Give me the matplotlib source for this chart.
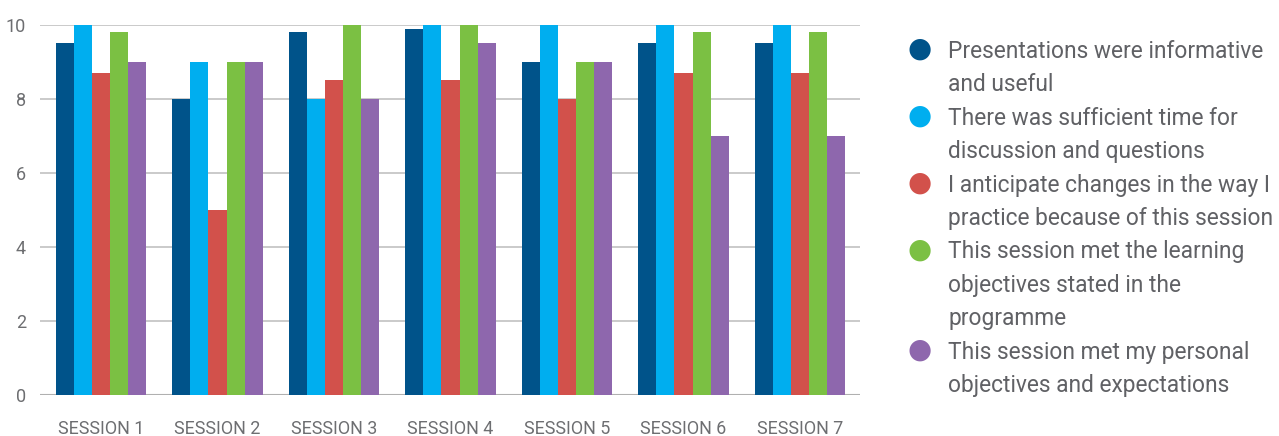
import numpy as np
import matplotlib.pyplot as plt

plt.rcParams['font.family'] = ['Roboto', 'DejaVu Sans']

sessions = ["SESSION 1", "SESSION 2", "SESSION 3", "SESSION 4", "SESSION 5", "SESSION 6", "SESSION 7"]

informative = [9.5, 8, 9.8, 9.9, 9, 9.5, 9.5]
sufficient_time = [10, 9, 8, 10, 10, 10, 10]
anticipate_changes = [8.7, 5, 8.5, 8.5, 8, 8.7, 8.7]
learning_objectives = [9.8, 9, 10, 10, 9, 9.8, 9.8]
personal_objectives = [9, 9, 8, 9.5, 9, 7, 7]

labels = [
    "Presentations were informative\nand useful",
    "There was sufficient time for\ndiscussion and questions",
    "I anticipate changes in the way I\npractice because of this session",
    "This session met the learning\nobjectives stated in the\nprogramme",
    "This session met my personal\nobjectives and expectations",
]
colors = ["#00538a", "#00aeef", "#d2514b", "#7bc043", "#8e67ad"]
series = [informative, sufficient_time, anticipate_changes, learning_objectives, personal_objectives]

text_col = "#6d6e71"

fig = plt.figure(figsize=(12.79, 4.36), dpi=100)
ax = fig.add_axes([40 / 1279, 41 / 436, 820 / 1279, 370 / 436])

x = np.arange(len(sessions))
bw = 0.156
for i, (vals, col) in enumerate(zip(series, colors)):
    ax.bar(x + (i - 2) * bw, vals, bw, color=col, zorder=3, linewidth=0)

ax.set_ylim(0, 10)
ax.set_xlim(-0.524, 6.515)
ax.set_yticks(range(0, 11, 2))
ax.set_yticklabels([str(v) for v in range(0, 11, 2)])
ax.yaxis.grid(True, color="#c6c6c6", linewidth=1.3, zorder=0)
ax.set_xticks(x)
ax.set_xticklabels(sessions)
ax.tick_params(axis="both", length=0, colors=text_col)
ax.tick_params(axis="y", labelsize=13, pad=10)
ax.tick_params(axis="x", labelsize=12.9, pad=18)
for s in ax.spines.values():
    s.set_visible(False)
ax.axhline(0, color="#b0b0b0", linewidth=1.5, zorder=2)

# legend drawn by hand so markers sit on the first line of each label
line_h = 33.4 / 436
y = 1 - 49 / 436
for lab, col in zip(labels, colors):
    fig.text(920 / 1279, y, "\u25cf", color=col, fontsize=20, ha="center", va="center",
             family="DejaVu Sans")
    for part in lab.split("\n"):
        fig.text(948 / 1279, y, part, color="#606165", fontsize=16.4,
                 ha="left", va="center_baseline")
        y -= line_h

fig.savefig("out.png", dpi=100)
